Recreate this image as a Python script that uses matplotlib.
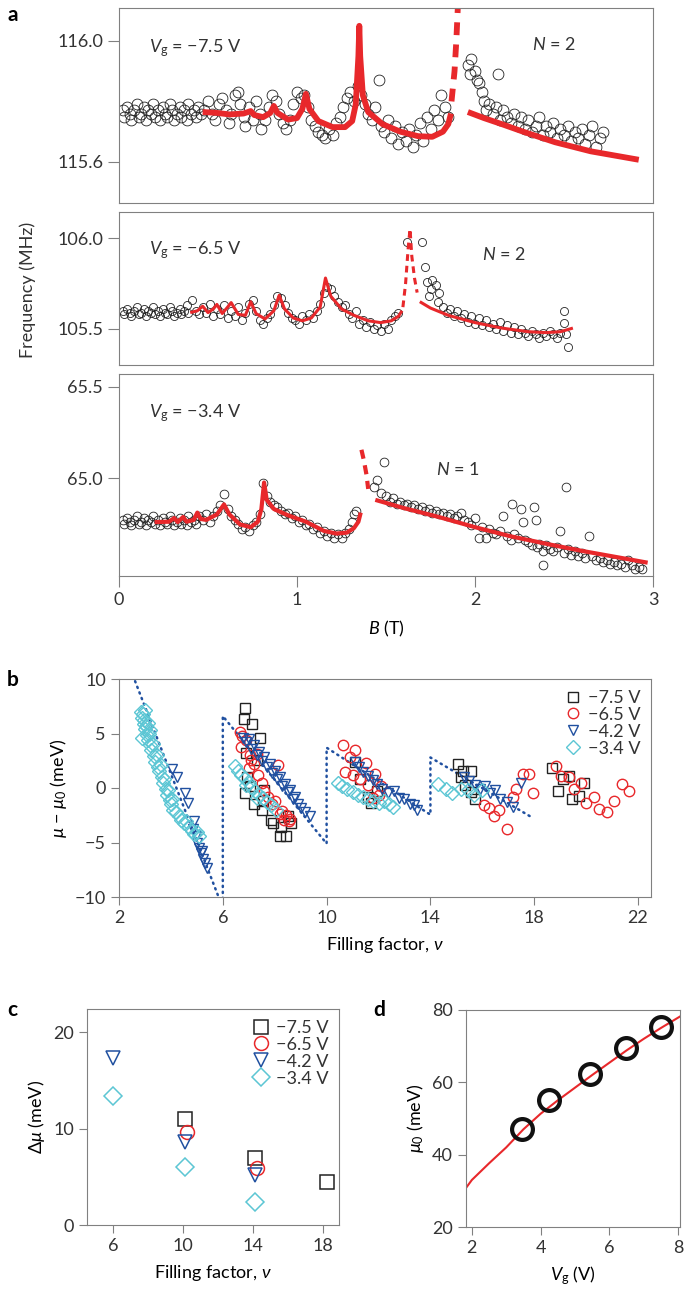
import matplotlib.pyplot as plt

plt.rcParams["font.family"] = ["Lato", "DejaVu Sans"]
plt.rcParams["mathtext.fontset"] = "custom"
plt.rcParams["mathtext.rm"] = "Lato"
plt.rcParams["mathtext.it"] = "Lato:italic"
plt.rcParams["axes.edgecolor"] = "#808080"
plt.rcParams["xtick.color"] = "#808080"
plt.rcParams["ytick.color"] = "#808080"
plt.rcParams["xtick.labelcolor"] = "#333333"
plt.rcParams["ytick.labelcolor"] = "#333333"
plt.rcParams["text.color"] = "#333333"

RED = "#e8282b"
BLUE = "#2050a0"
CYAN = "#5cc6d4"

# ---------------- panel a data: (B [T], frequency [MHz]) ----------------
a1_B = [0.02, 0.03, 0.045, 0.06, 0.07, 0.085, 0.10, 0.11, 0.125, 0.14, 0.15, 0.165, 0.18, 0.19, 0.205,
        0.22, 0.23, 0.245, 0.26, 0.27, 0.285, 0.30, 0.31, 0.325, 0.34, 0.35, 0.365, 0.38, 0.39, 0.405,
        0.42, 0.43, 0.445, 0.46,
        0.48, 0.50, 0.52, 0.54, 0.56, 0.58, 0.60, 0.62, 0.63, 0.65, 0.67, 0.68, 0.70, 0.71, 0.73, 0.75,
        0.77, 0.79, 0.80, 0.82, 0.84, 0.86, 0.88, 0.90, 0.92, 0.94, 0.96, 0.98, 1.00, 1.02, 1.04, 1.06,
        1.08, 1.10, 1.12, 1.14, 1.16, 1.18, 1.20, 1.22, 1.24, 1.26, 1.28, 1.30, 1.32, 1.34, 1.36, 1.38,
        1.40, 1.42, 1.44, 1.46, 1.47, 1.49, 1.51, 1.53, 1.55, 1.57, 1.59, 1.61, 1.63, 1.65, 1.67, 1.69,
        1.71, 1.73, 1.75, 1.77, 1.79, 1.81, 1.83, 1.85,
        1.96, 1.97, 1.98, 2.00, 2.01, 2.02, 2.13, 2.04, 2.05, 2.06, 2.08, 2.10, 2.12, 2.14, 2.16, 2.18,
        2.20, 2.22, 2.24, 2.26, 2.28, 2.30, 2.32, 2.34, 2.36, 2.38, 2.40, 2.42, 2.44, 2.46, 2.48, 2.50,
        2.52, 2.54, 2.56, 2.58, 2.60, 2.62, 2.64, 2.66, 2.68, 2.70, 2.72]
a1_f = [115.77, 115.75, 115.78, 115.76, 115.74, 115.77, 115.79, 115.75, 115.76, 115.78, 115.74, 115.77,
        115.76, 115.79, 115.75, 115.77, 115.74, 115.78, 115.76, 115.75, 115.79, 115.77, 115.74, 115.76,
        115.78, 115.75, 115.77, 115.74, 115.79, 115.76, 115.77, 115.75, 115.78, 115.76,
        115.77, 115.80, 115.76, 115.74, 115.79, 115.81, 115.77, 115.73, 115.76, 115.82, 115.83, 115.79,
        115.75, 115.72, 115.78, 115.74, 115.80, 115.76, 115.71, 115.74, 115.78, 115.82, 115.80, 115.76,
        115.73, 115.71, 115.74, 115.79, 115.83, 115.81, 115.82, 115.78, 115.74, 115.72, 115.70, 115.69,
        115.68, 115.71, 115.69, 115.73, 115.75, 115.78, 115.81, 115.83, 115.80, 115.85, 115.82, 115.79,
        115.76, 115.74, 115.78, 115.87, 115.72, 115.70, 115.74, 115.68, 115.72, 115.66, 115.70, 115.67,
        115.71, 115.65, 115.69, 115.73, 115.67, 115.75, 115.71, 115.77, 115.74, 115.82, 115.78, 115.75,
        115.92, 115.89, 115.94, 115.90, 115.87, 115.86, 115.89, 115.83, 115.80, 115.77, 115.79, 115.76,
        115.78, 115.74, 115.77, 115.75, 115.73, 115.76, 115.72, 115.75, 115.71, 115.74, 115.70, 115.72,
        115.75, 115.69, 115.72, 115.70, 115.73, 115.68, 115.71, 115.69, 115.72, 115.67, 115.70, 115.68,
        115.71, 115.66, 115.69, 115.72, 115.65, 115.68, 115.70]
fit1_B = [0.47, 0.55, 0.62, 0.70, 0.74, 0.76, 0.81, 0.85, 0.87, 0.89, 0.95, 1.00, 1.03, 1.05, 1.07, 1.12,
          1.20, 1.27, 1.31, 1.33, 1.345, 1.35, 1.355, 1.37, 1.40, 1.48, 1.58, 1.68, 1.76, 1.82, 1.85, 1.865]
fit1_f = [115.765, 115.762, 115.757, 115.760, 115.768, 115.755, 115.748, 115.762, 115.785, 115.762,
          115.740, 115.745, 115.775, 115.825, 115.775, 115.735, 115.715, 115.715, 115.735, 115.79,
          115.95, 116.05, 115.95, 115.82, 115.765, 115.725, 115.70, 115.685, 115.683, 115.70, 115.725,
          115.76]
fit1_dash_B = [1.868, 1.885, 1.895, 1.905]
fit1_dash_f = [115.80, 115.90, 116.00, 116.13]
fit1r_B = [1.96, 2.05, 2.15, 2.27, 2.45, 2.65, 2.92]
fit1r_f = [115.765, 115.745, 115.725, 115.700, 115.665, 115.635, 115.607]

a2_B = [0.02, 0.03, 0.045, 0.06, 0.07, 0.085, 0.10, 0.11, 0.125, 0.14, 0.15, 0.165, 0.18, 0.19, 0.205,
        0.22, 0.23, 0.245, 0.26, 0.27, 0.285, 0.30, 0.31, 0.325, 0.34, 0.35, 0.365, 0.38, 0.39,
        0.41, 0.43, 0.45, 0.47, 0.49, 0.51, 0.53, 0.55, 0.57, 0.59, 0.61, 0.63, 0.65, 0.67, 0.69, 0.71,
        0.73, 0.75, 0.77, 0.79, 0.81, 0.83, 0.85, 0.87, 0.89, 0.91, 0.93, 0.95, 0.97, 0.99, 1.01, 1.03,
        1.05, 1.07, 1.09, 1.11, 1.13, 1.15, 1.17, 1.19, 1.21, 1.23, 1.25, 1.27, 1.29, 1.31, 1.33, 1.35,
        1.37, 1.39, 1.41, 1.43, 1.45, 1.47, 1.49, 1.51, 1.53, 1.55, 1.57,
        1.62, 1.70, 1.72, 1.73, 1.75, 1.76, 1.78, 1.80, 1.74, 1.79, 1.82, 1.84, 1.86, 1.88, 1.90, 1.92,
        1.94, 1.96, 1.98, 2.00, 2.02, 2.04, 2.06, 2.08, 2.10, 2.12, 2.14, 2.16, 2.18, 2.20, 2.22, 2.24,
        2.26, 2.28, 2.30, 2.32, 2.34, 2.36, 2.38, 2.40, 2.42, 2.44, 2.46, 2.48, 2.50, 2.50, 2.52, 2.51]
a2_f = [105.60, 105.58, 105.61, 105.59, 105.57, 105.60, 105.62, 105.58, 105.59, 105.61, 105.57, 105.60,
        105.59, 105.62, 105.58, 105.60, 105.57, 105.61, 105.59, 105.58, 105.62, 105.60, 105.57, 105.59,
        105.61, 105.58, 105.60, 105.63, 105.59,
        105.66, 105.60, 105.58, 105.62, 105.59, 105.64, 105.57, 105.61, 105.58, 105.63, 105.56, 105.60,
        105.57, 105.62, 105.55, 105.59, 105.64, 105.66, 105.60, 105.55, 105.53, 105.56, 105.58, 105.63,
        105.68, 105.67, 105.63, 105.59, 105.56, 105.55, 105.53, 105.57, 105.55, 105.58, 105.56, 105.60,
        105.64, 105.70, 105.73, 105.72, 105.68, 105.65, 105.62, 105.63, 105.58, 105.56, 105.60, 105.53,
        105.55, 105.51, 105.54, 105.50, 105.52, 105.49, 105.53, 105.50, 105.55, 105.57, 105.59,
        105.98, 105.98, 105.84, 105.76, 105.72, 105.77, 105.74, 105.70, 105.68, 105.65, 105.62, 105.59,
        105.61, 105.57, 105.60, 105.56, 105.58, 105.54, 105.57, 105.53, 105.56, 105.52, 105.55, 105.51,
        105.53, 105.50, 105.54, 105.49, 105.52, 105.48, 105.51, 105.47, 105.50, 105.48, 105.46, 105.49,
        105.47, 105.45, 105.48, 105.46, 105.49, 105.47, 105.45, 105.48, 105.60, 105.535, 105.40, 105.47]
fit2_B = [0.40, 0.44, 0.47, 0.50, 0.53, 0.55, 0.58, 0.61, 0.63, 0.67, 0.71, 0.74, 0.77, 0.82, 0.87,
          0.90, 0.93, 0.98, 1.03, 1.08, 1.13, 1.16, 1.19, 1.25, 1.32, 1.40, 1.47, 1.53, 1.57, 1.59]
fit2_f = [105.59, 105.60, 105.625, 105.59, 105.61, 105.635, 105.585, 105.62, 105.645, 105.58, 105.575,
          105.65, 105.585, 105.555, 105.60, 105.685, 105.61, 105.56, 105.545, 105.56, 105.62, 105.78,
          105.68, 105.61, 105.575, 105.545, 105.535, 105.545, 105.57, 105.60]
fit2_dash_B = [1.595, 1.61, 1.625, 1.635, 1.645, 1.66, 1.675]
fit2_dash_f = [105.62, 105.75, 105.95, 106.05, 105.90, 105.78, 105.70]
fit2r_B = [1.69, 1.75, 1.85, 2.00, 2.15, 2.30, 2.40, 2.48, 2.55]
fit2r_f = [105.65, 105.615, 105.575, 105.535, 105.505, 105.485, 105.48, 105.485, 105.505]

a3_B = [0.02, 0.03, 0.045, 0.06, 0.07, 0.085, 0.10, 0.11, 0.125, 0.14, 0.15, 0.165, 0.18, 0.19, 0.205,
        0.22, 0.23, 0.245, 0.26, 0.27, 0.285, 0.30, 0.31, 0.325, 0.34, 0.35, 0.365, 0.38, 0.39, 0.405,
        0.42, 0.43,
        0.45, 0.47, 0.49, 0.51, 0.53, 0.55, 0.57, 0.59, 0.61, 0.63, 0.65, 0.67, 0.69, 0.71, 0.73, 0.75,
        0.77, 0.79, 0.81, 0.83, 0.85, 0.87, 0.89, 0.91, 0.93, 0.95, 0.97, 0.99, 1.01, 1.03, 1.05, 1.07,
        1.09, 1.11, 1.13, 1.15, 1.17, 1.19, 1.21, 1.23, 1.25, 1.27, 1.29, 1.31, 1.32, 1.33,
        1.43, 1.45, 1.47, 1.49, 1.50, 1.52, 1.54, 1.56, 1.58, 1.60, 1.62, 1.64, 1.66, 1.68, 1.70, 1.72,
        1.74, 1.76, 1.78, 1.80, 1.82, 1.84, 1.86, 1.88, 1.90, 1.92, 1.94, 1.96, 1.98, 2.00, 2.02, 2.04,
        2.06, 2.08, 2.10, 2.12, 2.14, 2.16, 2.18, 2.21, 2.20, 2.22, 2.24, 2.26, 2.27, 2.28, 2.30, 2.33,
        2.34, 2.32, 2.35, 2.36, 2.38, 2.38, 2.40, 2.42, 2.44, 2.46, 2.48, 2.50, 2.51, 2.52, 2.54, 2.56,
        2.58, 2.60, 2.62, 2.64, 2.66, 2.68, 2.70, 2.72, 2.74, 2.76, 2.78, 2.80, 2.82, 2.84, 2.86, 2.88,
        2.90, 2.92, 2.94]
a3_f = [64.77, 64.75, 64.78, 64.76, 64.74, 64.77, 64.79, 64.75, 64.76, 64.78, 64.74, 64.77, 64.76, 64.79,
        64.75, 64.77, 64.74, 64.78, 64.76, 64.75, 64.79, 64.77, 64.74, 64.76, 64.78, 64.75, 64.77, 64.74,
        64.79, 64.76, 64.77, 64.75,
        64.79, 64.77, 64.80, 64.76, 64.79, 64.82, 64.85, 64.91, 64.83, 64.79, 64.77, 64.75, 64.72, 64.73,
        64.71, 64.74, 64.76, 64.80, 64.97, 64.90, 64.87, 64.85, 64.84, 64.82, 64.80, 64.81, 64.78, 64.79,
        64.76, 64.77, 64.74, 64.75, 64.72, 64.73, 64.70, 64.71, 64.68, 64.70, 64.67, 64.69, 64.67, 64.70,
        64.72, 64.76, 64.80, 64.82,
        64.95, 64.99, 64.92, 65.09, 64.90, 64.87, 64.89, 64.86, 64.87, 64.85, 64.86, 64.84, 64.85, 64.83,
        64.84, 64.82, 64.83, 64.81, 64.82, 64.80, 64.81, 64.79, 64.80, 64.78, 64.79, 64.81, 64.77, 64.76,
        64.74, 64.78, 64.67, 64.73, 64.67, 64.72, 64.70, 64.69, 64.71, 64.79, 64.68, 64.86, 64.66, 64.69,
        64.67, 64.83, 64.76, 64.66, 64.65, 64.84, 64.77, 64.63, 64.62, 64.64, 64.52, 64.60, 64.63, 64.61,
        64.60, 64.62, 64.71, 64.59, 64.95, 64.61, 64.58, 64.60, 64.57, 64.59, 64.56, 64.68, 64.57, 64.55,
        64.56, 64.54, 64.55, 64.53, 64.54, 64.52, 64.53, 64.51, 64.55, 64.52, 64.50, 64.51, 64.50]
fit3_B = [0.20, 0.28, 0.31, 0.33, 0.36, 0.38, 0.42, 0.44, 0.46, 0.49, 0.55, 0.59, 0.62, 0.68, 0.74, 0.78,
          0.80, 0.815, 0.83, 0.87, 0.95, 1.05, 1.15, 1.22, 1.28, 1.32, 1.345, 1.358]
fit3_f = [64.758, 64.76, 64.78, 64.758, 64.786, 64.76, 64.77, 64.81, 64.775, 64.77, 64.80, 64.855, 64.80,
          64.745, 64.73, 64.76, 64.83, 64.975, 64.88, 64.83, 64.795, 64.76, 64.71, 64.695, 64.70, 64.725,
          64.76, 64.81]
fit3_dash_B = [1.362, 1.375, 1.39, 1.40]
fit3_dash_f = [65.155, 65.10, 65.02, 64.94]
fit3r_B = [1.44, 1.60, 1.80, 2.00, 2.20, 2.42, 2.60, 2.80, 2.97]
fit3r_f = [64.88, 64.835, 64.785, 64.73, 64.68, 64.635, 64.60, 64.565, 64.535]

# ---------------- panel b data: (filling factor, mu - mu0 [meV]) ----------------
b_sq_nu = [6.85, 6.81, 7.14, 7.45, 7.3, 6.95, 6.9, 7.05, 6.85, 7.2, 7.5, 7.55, 7.87, 7.93, 8.19, 8.45,
           8.64, 8.26, 7.6, 8.5, 11.1, 11.6, 11.72, 11.96, 11.3, 15.05, 15.25, 15.57, 15.18, 15.57, 15.7,
           15.35, 18.7, 18.9, 19.1, 19.35, 19.47, 19.73, 19.92]
b_sq_mu = [7.3, 6.35, 5.9, 4.6, 2.6, 1.0, 3.2, 0.2, -0.5, -1.5, -2.0, -1.2, -2.9, -3.2, -4.4, -4.4,
           -3.2, -3.6, -0.2, -2.6, 2.4, -0.8, -1.4, -0.3, 0.8, 2.2, 1.6, 1.6, 1.0, -0.4, -1.0,
           0.3, 1.8, -0.3, 0.8, 1.1, -1.0, -0.7, 0.45]
b_ci_nu = [6.65, 6.75, 6.7, 6.9, 7.05, 7.2, 7.0, 7.35, 7.5, 7.6, 7.75, 7.9, 8.0, 8.13, 8.2, 8.3, 8.35,
           8.45, 8.55, 8.58, 7.3, 7.1,
           10.63, 11.08, 10.7, 11.53, 11.85, 10.9, 11.3, 11.0, 11.6, 12.0, 12.1, 11.8,
           16.08, 16.25, 16.46, 16.65, 16.97, 17.17, 17.29, 17.55, 17.8, 17.94,
           18.83, 19.03, 19.35, 19.54, 19.8, 19.98, 20.3, 20.5, 20.82, 21.08, 21.4, 21.65]
b_ci_mu = [5.1, 4.8, 3.8, 4.4, 3.0, 2.2, 1.8, 1.2, 0.5, -0.3, -0.8, -1.5, -1.2, 2.1, -2.4, -2.1, -2.9,
           -2.5, -3.0, -2.8, 3.1, 2.6,
           3.9, 3.5, 1.5, 2.3, 1.25, 2.8, 0.8, 1.2, 0.3, -0.6, 0.2, -0.9,
           -1.6, -1.8, -2.6, -2.0, -3.8, -0.8, -0.1, 1.25, 1.25, -0.5,
           2.0, 1.1, 1.0, -0.1, 0.5, -1.4, -0.8, -1.9, -2.2, -1.2, 0.4, -0.3]
b_tr_nu = [4.03, 4.22, 4.54, 4.65, 4.86, 4.95, 5.0, 5.1, 5.15, 5.25, 5.3, 5.4, 5.2, 4.9,
           6.78, 6.9, 7.0, 7.1, 7.2, 7.3, 7.4, 7.5, 7.6, 7.7, 7.8, 7.9, 8.0, 8.1, 8.2, 8.3, 8.4, 8.5,
           8.6, 8.7, 8.8, 8.9, 9.0, 9.15, 9.35,
           11.08, 11.25, 11.4, 11.6, 11.8, 11.95, 12.15, 12.35, 12.6, 12.8, 13.0, 13.2, 13.35, 13.5,
           15.3, 15.5, 15.7, 15.9, 16.1, 16.3, 16.5, 16.7, 16.95, 17.17, 17.5]
b_tr_mu = [1.7, 1.0, -0.5, -1.4, -3.8, -4.4, -5.0, -5.5, -6.0, -6.5, -6.9, -7.3, -5.8, -3.0,
           4.6, 4.2, 4.5, 3.6, 3.9, 3.0, 3.3, 2.5, 2.8, 1.9, 2.2, 1.4, 1.6, 0.8, 1.0, 0.2, 0.4, -0.4,
           -0.2, -1.0, -0.8, -1.5, -1.8, -2.2, -2.6,
           2.4, 1.9, 1.5, 1.1, 0.7, 0.4, -0.1, -0.5, -0.3, -0.9, -1.0, -1.5, -1.6, -2.0,
           1.0, 0.6, 0.3, -0.1, 0.2, -0.5, -0.2, -1.0, -1.3, -1.7, 0.5]
b_di_nu = [2.85, 2.88, 2.92, 2.95, 2.98, 3.0, 3.03, 2.9, 3.06, 3.1, 3.15, 3.2, 3.25, 3.3, 3.35, 3.4,
           3.45, 3.5, 3.55, 3.6, 3.65, 3.7, 3.75, 3.8, 3.85, 3.9, 3.95, 4.0, 4.05, 4.1, 4.2, 4.3, 4.4,
           4.5, 4.6, 4.7, 4.8, 4.9, 5.0, 5.1, 3.0, 3.1, 3.2,
           6.46, 6.6, 6.7, 6.85, 7.0, 7.1, 7.25, 7.4, 7.55, 7.7, 7.85, 8.06, 6.9, 7.3,
           10.42, 10.6, 10.8, 11.0, 11.2, 11.4, 11.6, 11.8, 12.0, 12.2, 12.4, 12.55,
           14.28, 14.6, 14.85, 15.18, 15.43, 15.69, 16.0]
b_di_mu = [7.0, 6.4, 6.8, 5.9, 6.2, 5.4, 5.7, 4.6, 4.9, 4.4, 5.0, 3.9, 3.5, 4.0, 2.9, 2.4,
           3.0, 1.9, 1.6, 2.1, 1.0, 0.5, 0.8, -0.1, -0.6, -0.2, -1.1, -1.5, -1.0, -2.0, -2.2, -2.6, -2.9,
           -3.2, -3.0, -3.6, -3.9, -4.2, -4.0, -4.4, 7.2, 6.0, 5.3,
           2.0, 1.6, 1.2, 0.9, 0.5, 0.1, -0.3, -0.6, -0.9, -1.3, -1.6, -2.0, 0.3, -0.9,
           0.5, 0.2, -0.1, -0.4, -0.6, -0.8, -1.0, -1.2, -1.4, -1.2, -1.5, -1.7,
           0.35, -0.1, -0.5, -0.1, -0.2, -0.6, -0.2]
b_model_nu = [2.62, 6.0, 6.0, 10.0, 10.0, 14.0, 14.0, 17.95]
b_model_mu = [9.8, -11.0, 6.6, -5.1, 3.7, -2.45, 2.8, -2.75]

# ---------------- panel c data ----------------
c_sq_nu, c_sq_dmu = [10.1, 14.1, 18.2], [11.0, 6.9, 4.5]
c_ci_nu, c_ci_dmu = [10.2, 14.2], [9.6, 5.9]
c_tr_nu, c_tr_dmu = [6.0, 10.1, 14.1], [17.3, 8.6, 5.2]
c_di_nu, c_di_dmu = [6.0, 10.1, 14.1], [13.4, 6.0, 2.4]

# ---------------- panel d data ----------------
d_vg = [3.45, 4.25, 5.45, 6.5, 7.5]
d_mu0 = [47.0, 55.2, 62.3, 69.5, 75.3]
d_fit_vg = [1.83, 2.0, 2.5, 3.0, 3.5, 4.0, 4.5, 5.0, 5.5, 6.0, 6.5, 7.0, 7.5, 8.06]
d_fit_mu0 = [30.8, 33.0, 37.6, 42.0, 47.0, 51.3, 55.0, 58.5, 62.0, 65.4, 68.8, 72.0, 75.0, 78.2]

series_labels = ["\u22127.5 V", "\u22126.5 V", "\u22124.2 V", "\u22123.4 V"]

W, H = 685, 1302
fig = plt.figure(figsize=(W / 100, H / 100), dpi=100)


def box(l, r, t, b):
    return [l / W, 1 - b / H, (r - l) / W, (b - t) / H]


FS = 13
ax1 = fig.add_axes(box(119, 653, 8, 203))
ax2 = fig.add_axes(box(119, 653, 212, 365))
ax3 = fig.add_axes(box(119, 653, 374, 576))

panels = [
    (ax1, a1_B, a1_f, fit1_B, fit1_f, fit1_dash_B, fit1_dash_f, fit1r_B, fit1r_f,
     (115.464, 116.109), [115.6, 116.0], ["115.6", "116.0"], 4.2, 7.8,
     "\u22127.5 V", 115.977, "2", 2.32, 115.987),
    (ax2, a2_B, a2_f, fit2_B, fit2_f, fit2_dash_B, fit2_dash_f, fit2r_B, fit2r_f,
     (105.302, 106.143), [105.5, 106.0], ["105.5", "106.0"], 2.2, 5.8,
     "\u22126.5 V", 105.934, "2", 2.04, 105.907),
    (ax3, a3_B, a3_f, fit3_B, fit3_f, fit3_dash_B, fit3_dash_f, fit3r_B, fit3r_f,
     (64.462, 65.571), [65.0, 65.5], ["65.0", "65.5"], 3.0, 6.3,
     "\u22123.4 V", 65.357, "1", 1.78, 65.044),
]
for (ax, xb, yf, fb, ff, db, df, rb, rf, ylim, yt, ytl, lw, ms,
     vg, vgy, nlab, nx, ny) in panels:
    ax.plot(xb, yf, "o", mfc="none", mec="#222222", mew=0.6, ms=ms)
    ax.plot(fb, ff, color=RED, lw=lw, solid_capstyle="butt")
    ax.plot(db, df, color=RED, lw=lw, ls=(0, (2.2, 1.6)))
    ax.plot(rb, rf, color=RED, lw=lw, solid_capstyle="butt")
    ax.set_xlim(0, 3)
    ax.set_ylim(*ylim)
    ax.set_yticks(yt)
    ax.set_yticklabels(ytl, fontsize=FS)
    ax.tick_params(axis="y", direction="out", length=8, width=0.8)
    ax.text(0.17, vgy, "$V_{\\mathrm{g}}$ = " + vg, fontsize=FS, va="center")
    ax.text(nx, ny, "$N$ = " + nlab, fontsize=FS, va="center")
ax1.set_xticks([])
ax2.set_xticks([])
ax3.set_xticks([0, 1, 2, 3])
ax3.set_xticklabels(["0", "1", "2", "3"], fontsize=FS)
ax3.tick_params(axis="x", direction="out", length=8, width=0.8)
ax3.set_xlabel("$B$ (T)", fontsize=FS, labelpad=8)
fig.text(28 / W, 1 - 290 / H, "Frequency (MHz)", rotation=90, fontsize=FS,
         ha="center", va="center")

# ---------------- panel b ----------------
axb = fig.add_axes(box(119, 651, 679, 897))
axb.plot(b_model_nu, b_model_mu, color=BLUE, lw=1.8, ls=(0, (0.5, 1.9)),
         dash_capstyle="round")
kw = dict(ls="none", mfc="none", ms=7.5, mew=1.0)
axb.plot(b_sq_nu, b_sq_mu, marker="s", mec="#222222", label=series_labels[0], **kw)
axb.plot(b_ci_nu, b_ci_mu, marker="o", mec=RED, label=series_labels[1], **kw)
axb.plot(b_tr_nu, b_tr_mu, marker="v", mec=BLUE, label=series_labels[2], **kw)
axb.plot(b_di_nu, b_di_mu, marker="D", mec=CYAN, label=series_labels[3],
         ls="none", mfc="none", ms=6.8, mew=1.0)
axb.set_xlim(2, 22.5)
axb.set_ylim(-10, 10)
axb.set_xticks([2, 6, 10, 14, 18, 22])
axb.set_yticks([-10, -5, 0, 5, 10])
axb.tick_params(labelsize=FS, direction="out", length=6, width=0.8)
axb.set_xlabel("Filling factor, $\\nu$", fontsize=FS, labelpad=6)
axb.set_ylabel("$\\mu$ \u2212 $\\mu_0$ (meV)", fontsize=FS, labelpad=4)
axb.legend(loc="upper right", frameon=False, fontsize=FS, handletextpad=0.2,
           labelspacing=0.05, borderaxespad=0.2, handlelength=1.2, markerfirst=True)

# ---------------- panel c ----------------
axc = fig.add_axes(box(87, 339, 1009, 1225))
kw = dict(ls="none", mfc="none", ms=10, mew=1.1)
axc.plot(c_sq_nu, c_sq_dmu, marker="s", mec="#222222", label=series_labels[0], **kw)
axc.plot(c_ci_nu, c_ci_dmu, marker="o", mec=RED, label=series_labels[1], **kw)
axc.plot(c_tr_nu, c_tr_dmu, marker="v", mec=BLUE, label=series_labels[2], **kw)
axc.plot(c_di_nu, c_di_dmu, marker="D", mec=CYAN, label=series_labels[3],
         ls="none", mfc="none", ms=9, mew=1.1)
axc.set_xlim(4.5, 18.9)
axc.set_ylim(0, 22.4)
axc.set_xticks([6, 10, 14, 18])
axc.set_yticks([0, 10, 20])
axc.tick_params(labelsize=FS, direction="out", length=6, width=0.8)
axc.set_xlabel("Filling factor, $\\nu$", fontsize=FS, labelpad=6)
axc.set_ylabel("\u0394$\\mu$ (meV)", fontsize=FS, labelpad=4)
axc.legend(loc="upper right", frameon=False, fontsize=FS, handletextpad=0.2,
           labelspacing=0.05, borderaxespad=0.2, handlelength=1.2)

# ---------------- panel d ----------------
axd = fig.add_axes(box(466, 680, 1010, 1227))
axd.plot(d_fit_vg, d_fit_mu0, color=RED, lw=1.5)
axd.plot(d_vg, d_mu0, "o", mfc="none", mec="#111111", ms=15, mew=3)
axd.set_xlim(1.83, 8.06)
axd.set_ylim(20, 80)
axd.set_xticks([2, 4, 6, 8])
axd.set_yticks([20, 40, 60, 80])
axd.tick_params(labelsize=FS, direction="out", length=6, width=0.8)
axd.set_xlabel("$V_{\\mathrm{g}}$ (V)", fontsize=FS, labelpad=6)
axd.set_ylabel("$\\mu_0$ (meV)", fontsize=FS, labelpad=4)

# panel letters
for lab, x, y in [("a", 7, 15), ("b", 7, 680), ("c", 7, 1010), ("d", 373, 1010)]:
    fig.text(x / W, 1 - y / H, lab, fontsize=15, fontweight="bold", color="black",
             ha="left", va="center")

fig.savefig("out.png", dpi=100)
